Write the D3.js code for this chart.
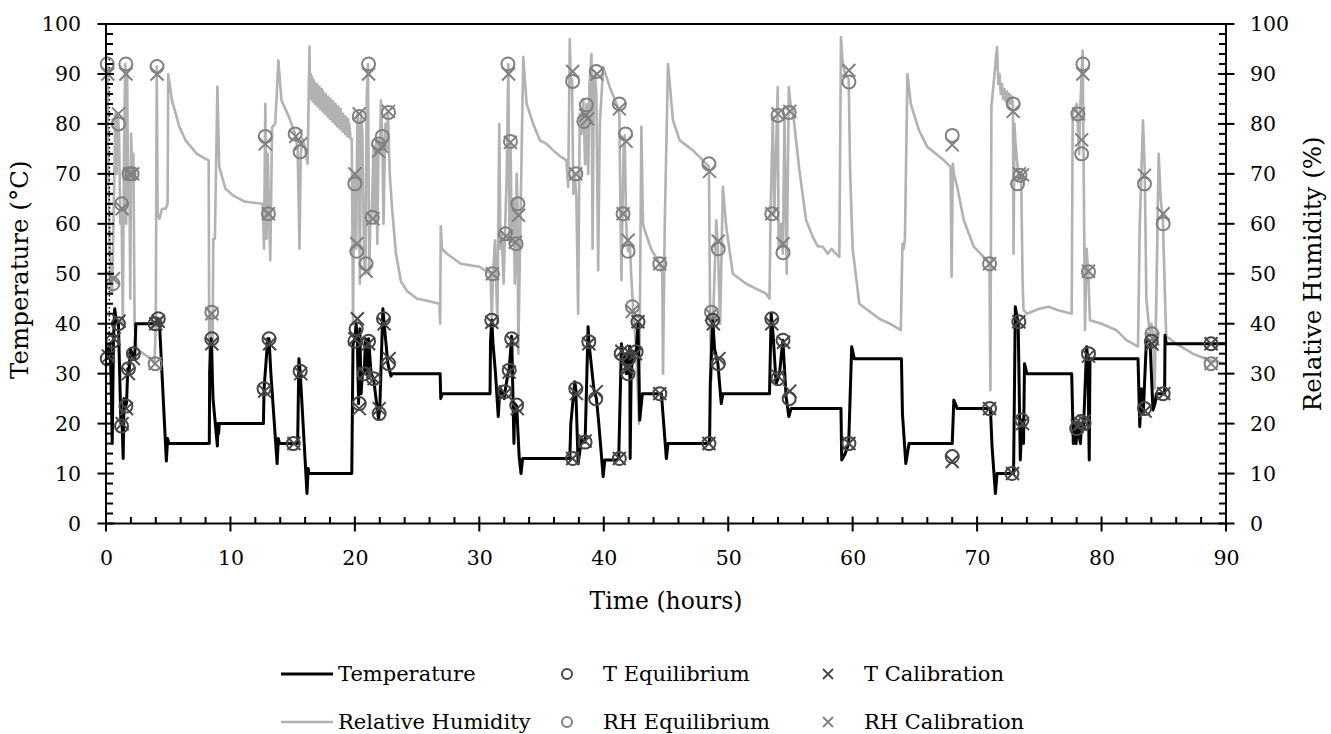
<!DOCTYPE html>
<html>
<head>
<meta charset="utf-8">
<title>Temperature and RH</title>
<style>
body { margin: 0; background: #fff; }
text { font-family: "DejaVu Serif", serif; fill: #000; }
.axis path, .axis line { display: none; }
</style>
</head>
<body>
<script src="https://cdn.jsdelivr.net/npm/d3@7/dist/d3.min.js"></script>
<script>

// axis ticks
var xTicks = [0, 10, 20, 30, 40, 50, 60, 70, 80, 90];
var yTicks = [0, 10, 20, 30, 40, 50, 60, 70, 80, 90, 100];

// temperature (°C), [hours, value]
var tempData = [
  [0, 33], [0.1, 33], [0.2, 35], [0.3, 36], [0.4, 30], [0.5, 16], [0.6, 36.5], [0.7, 43],
  [0.85, 40], [1.0, 40], [1.1, 30], [1.2, 20], [1.3, 19.5], [1.38, 13], [1.45, 25], [1.55, 23.5],
  [1.65, 24], [1.75, 31], [1.85, 30], [1.95, 35], [2.1, 34], [2.3, 33], [2.4, 40], [4.0, 40],
  [4.2, 41], [4.3, 40], [4.85, 12.5], [4.95, 17], [5.05, 16], [8.3, 16], [8.33, 30], [8.45, 37],
  [8.6, 25], [8.95, 15.5], [9.0, 20], [9.05, 18], [9.1, 20], [12.65, 20], [12.7, 27], [13.0, 37],
  [13.1, 37], [13.25, 30], [13.75, 12], [13.85, 17], [13.95, 16], [15.4, 16], [15.5, 33], [15.6, 30.5],
  [16.15, 6], [16.25, 11], [16.3, 10], [19.75, 10], [19.85, 36], [20.0, 37], [20.1, 40], [20.2, 36],
  [20.3, 24], [20.4, 39], [20.5, 26], [20.6, 30], [20.75, 30], [20.85, 37], [21.0, 30], [21.1, 37],
  [21.3, 30], [21.5, 29], [21.9, 21], [22.0, 23], [22.25, 43], [22.35, 40], [22.65, 32], [22.9, 29.5],
  [23.0, 30], [26.85, 30], [26.9, 25], [27.0, 26], [30.86, 26], [30.9, 36.7], [31.0, 40.7], [31.1, 36],
  [31.3, 30], [31.52, 21.4], [31.66, 27.4], [32.0, 25], [32.06, 26.4], [32.3, 30], [32.4, 31], [32.6, 37.5],
  [32.78, 16], [32.85, 24], [33.0, 23.5], [33.2, 13.4], [33.35, 10], [33.48, 13], [37.27, 13], [37.35, 20],
  [37.67, 28.4], [37.75, 27], [37.94, 12], [38.2, 16.7], [38.5, 16.3], [38.74, 39.4], [38.8, 36.4], [39.2, 27],
  [39.41, 25], [39.6, 20], [39.95, 9.4], [40.08, 12.7], [41.02, 12.7], [41.2, 13], [41.42, 36], [41.5, 34],
  [41.7, 33], [41.8, 30], [41.9, 34], [42.0, 30], [42.09, 35.5], [42.12, 13], [42.2, 30], [42.35, 34.5],
  [42.6, 34], [42.75, 40], [42.89, 20.7], [43.1, 26], [44.63, 26], [45.03, 13], [45.16, 16], [48.5, 16],
  [48.56, 28], [48.75, 41], [48.9, 35], [49.17, 32], [49.44, 24], [49.57, 26], [53.32, 26], [53.45, 42],
  [53.6, 38], [53.85, 28], [54.0, 29], [54.12, 30], [54.39, 36.7], [54.65, 25.4], [54.87, 21.4], [55.05, 23],
  [59.06, 23], [59.12, 12.7], [59.4, 14], [59.68, 16], [59.92, 35.4], [60.13, 33], [63.92, 33], [64.0, 22],
  [64.27, 12], [64.53, 16], [68.0, 16], [68.13, 24.7], [68.4, 23], [71.07, 23], [71.2, 15.4], [71.47, 6],
  [71.6, 10], [72.93, 10], [73.07, 43.4], [73.3, 40], [73.47, 12.7], [73.6, 20.7], [73.73, 16], [73.81, 32],
  [74.0, 30], [77.6, 30], [77.73, 16], [77.85, 20], [77.95, 16], [78.1, 20], [78.3, 16], [78.4, 20],
  [78.55, 19], [78.8, 35.4], [78.9, 33], [79.01, 12.7], [79.07, 33], [82.93, 33], [83.07, 19.4], [83.2, 27],
  [83.35, 22], [83.6, 36.4], [83.9, 36], [84.13, 22.7], [84.3, 24], [84.4, 26], [85.07, 26], [85.1, 37.7],
  [85.2, 36], [90, 36]
];

// relative humidity (%), [hours, value]
var rhData = [
  [0.0, 91], [0.1, 92], [0.2, 70], [0.35, 48], [0.5, 46], [0.6, 60], [0.75, 82], [0.85, 70],
  [0.95, 82], [1.05, 78], [1.15, 60], [1.25, 63], [1.35, 40], [1.45, 75], [1.55, 92], [1.62, 60],
  [1.7, 90], [1.78, 65], [1.88, 70], [1.95, 45], [2.02, 78], [2.1, 70], [2.2, 74], [2.3, 40],
  [2.45, 35], [3.0, 34], [3.6, 33], [3.9, 32], [4.0, 40], [4.08, 91.5], [4.15, 62], [4.3, 61],
  [4.5, 63], [4.8, 63], [4.95, 64], [5.0, 90], [5.3, 84.7], [5.9, 79.4], [6.4, 76.7], [7.3, 74],
  [8.0, 73], [8.25, 72.7], [8.3, 30], [8.45, 42], [8.55, 30], [8.62, 57], [8.75, 57], [8.95, 87.5],
  [9.1, 71.4], [9.6, 67], [10.2, 65.7], [11.2, 64.4], [12.6, 64], [12.7, 55], [12.8, 84], [12.9, 57],
  [13.0, 74], [13.1, 62], [13.2, 52.7], [13.35, 79.4], [13.6, 80], [13.85, 92.7], [14.1, 84.7], [14.7, 81.4],
  [15.2, 78], [15.4, 75], [15.55, 55], [15.65, 74], [15.8, 77], [16.0, 75], [16.2, 72],
  [16.35, 95.5], [16.4, 86], [16.45, 90], [16.5, 85], [16.55, 89.5], [16.6, 84.5], [16.65, 89], [16.7, 84.5],
  [16.75, 88.5], [16.8, 84], [16.85, 88], [16.9, 84], [16.95, 88], [17.0, 83.5], [17.05, 87.5], [17.1, 83.5],
  [17.15, 87.5], [17.2, 83], [17.25, 87], [17.3, 83], [17.35, 87], [17.4, 82.5], [17.45, 86.5], [17.5, 82.5],
  [17.55, 86], [17.6, 82], [17.65, 86], [17.7, 82], [17.75, 85.5], [17.8, 81.5], [17.85, 85.5], [17.9, 81.5],
  [17.95, 85], [18.0, 81], [18.05, 85], [18.1, 81], [18.15, 84.5], [18.2, 80.5], [18.25, 84.5], [18.3, 80.5],
  [18.35, 84], [18.4, 80], [18.45, 84], [18.5, 80], [18.55, 83.5], [18.6, 79.5], [18.65, 83.5], [18.7, 79.5],
  [18.75, 83], [18.8, 79], [18.85, 83], [18.9, 79], [18.95, 82], [19.0, 78.5], [19.05, 82], [19.1, 78.5],
  [19.15, 81.5], [19.2, 78], [19.25, 81.5], [19.3, 78], [19.35, 81], [19.4, 77.5], [19.45, 81], [19.5, 77.5],
  [19.55, 80], [19.65, 77], [19.75, 77], [19.85, 40], [19.95, 70], [20.0, 56], [20.05, 70], [20.1, 55],
  [20.2, 82], [20.3, 80], [20.4, 48], [20.5, 82], [20.6, 78], [20.75, 52], [20.85, 50], [20.95, 85],
  [21.05, 92], [21.15, 50], [21.25, 61], [21.35, 62], [21.5, 75], [21.6, 60], [21.7, 77], [21.8, 56],
  [21.9, 76], [22.0, 74], [22.1, 84.7], [22.2, 77], [22.3, 60], [22.45, 80], [22.55, 75], [22.65, 82.5],
  [22.8, 70], [23.0, 62.7], [23.3, 54], [23.7, 48.5], [24.2, 46.5], [25.0, 45], [26.0, 44.5], [26.8, 44],
  [26.85, 40], [26.9, 59.5], [27.0, 55], [27.4, 54], [28.5, 52], [30.0, 51.4], [30.9, 50], [31.0, 41],
  [31.1, 50], [31.26, 56.7], [31.45, 40], [31.6, 80], [31.7, 55], [31.8, 58], [31.95, 48], [32.06, 58],
  [32.2, 70], [32.33, 92], [32.42, 56], [32.51, 76.4], [32.6, 58], [32.75, 65], [32.85, 48], [32.94, 56],
  [33.0, 70], [33.07, 63.7], [33.13, 34], [33.3, 60], [33.53, 93.4], [33.8, 84], [34.33, 80], [34.87, 76.7],
  [35.4, 76], [35.94, 74.7], [36.5, 73.5], [37.0, 72.7], [37.14, 67.4], [37.27, 97], [37.35, 88], [37.45, 89],
  [37.55, 66], [37.67, 70], [37.8, 65], [37.94, 42], [38.07, 82], [38.2, 78], [38.35, 85], [38.5, 72],
  [38.61, 84], [38.75, 70], [38.85, 88], [39.01, 94], [39.1, 55], [39.2, 88], [39.28, 90], [39.4, 86],
  [39.55, 50.7], [39.68, 80], [39.95, 91.4], [40.48, 87.4], [41.02, 84], [41.25, 82], [41.35, 60.7], [41.42, 48.7],
  [41.5, 62], [41.6, 75], [41.68, 77.7], [41.8, 60], [41.9, 56], [41.95, 54.5], [42.09, 56], [42.2, 50],
  [42.35, 43.4], [42.6, 35], [42.83, 20], [43.02, 79.4], [43.15, 60], [43.29, 58.7], [43.8, 55], [44.49, 52],
  [44.7, 50], [44.76, 30], [44.9, 60], [45.16, 92], [45.56, 80.7], [46.1, 76.7], [47.17, 74.7], [48.24, 72],
  [48.45, 71.5], [48.55, 40], [48.64, 28.7], [48.8, 42], [49.04, 60.7], [49.17, 55.4], [49.35, 40], [49.57, 67.4],
  [49.84, 59.4], [50.37, 50], [51.44, 48], [53.05, 46], [53.32, 45], [53.4, 62], [53.58, 81.4], [53.7, 62],
  [53.98, 87.4], [54.05, 55], [54.12, 55.4], [54.25, 60], [54.39, 54], [54.52, 81.4], [54.7, 50], [54.87, 87.4],
  [55.0, 84], [55.19, 82.7], [55.72, 70.7], [56.26, 60.7], [56.79, 57.4], [57.2, 55.5], [57.59, 55.4], [58.0, 54],
  [58.3, 55], [58.66, 54], [58.93, 53.4], [59.06, 97.4], [59.2, 92], [59.4, 90], [59.68, 89], [59.8, 70],
  [60.0, 55], [60.53, 44], [61.6, 42], [62.14, 41], [63.0, 40], [63.87, 38.7], [64.0, 56], [64.1, 55],
  [64.2, 57], [64.4, 90], [64.67, 84], [65.33, 78.7], [66.0, 75.4], [67.33, 72.7], [67.87, 71.4], [67.95, 49.4],
  [68.05, 72], [68.13, 70], [68.4, 67.4], [68.93, 60.7], [69.73, 55.4], [70.8, 52.7], [70.99, 52], [71.07, 26.7],
  [71.15, 83.4], [71.6, 95.4], [71.7, 88], [71.8, 90], [71.9, 86], [72.0, 88], [72.1, 85], [72.2, 87],
  [72.3, 84.5], [72.4, 86.5], [72.5, 84], [72.6, 86], [72.7, 84], [72.8, 85.5], [72.88, 83.7], [72.93, 54],
  [73.0, 80], [73.07, 76.7], [73.3, 70], [73.55, 68], [73.65, 49], [73.73, 42.7], [74.0, 42], [75.0, 43],
  [75.73, 43.4], [76.5, 42.7], [77.6, 42], [77.68, 82], [78.0, 84], [78.2, 74], [78.3, 84], [78.48, 94.7],
  [78.6, 60], [78.67, 38.7], [78.8, 55], [78.93, 50], [79.07, 40.7], [80.0, 40], [81.2, 38.7], [82.0, 36.7],
  [82.93, 35.4], [83.07, 60], [83.33, 80.7], [83.47, 70.7], [83.6, 45], [83.87, 38], [84.0, 40], [84.13, 38],
  [84.27, 27], [84.4, 45], [84.59, 74], [84.75, 65], [84.93, 60.7], [85.1, 45], [85.2, 37.4], [85.47, 37],
  [86.0, 36], [87.33, 34], [88.67, 32.7], [90.0, 32]
];

// short dotted segment near t = 0
var gapData = [[0.27, 93], [0.27, 33]];

var tEqData = [
  [0.1, 33], [0.55, 36.5], [1.0, 40], [1.25, 19.5], [1.6, 23.5], [1.8, 31], [2.2, 34], [3.95, 40],
  [4.2, 41], [8.5, 37], [12.7, 27], [13.1, 37], [15.05, 16], [15.6, 30.5], [20.0, 36.5], [20.1, 39],
  [20.35, 24], [20.75, 30], [21.1, 36.5], [21.5, 29], [21.95, 22], [22.3, 41], [22.7, 32], [31.0, 40.7],
  [32.05, 26.4], [32.4, 30.7], [32.6, 37], [33.0, 23.7], [37.5, 13], [37.75, 27], [38.5, 16.3], [38.8, 36.4],
  [39.35, 25], [41.25, 13], [41.4, 34], [41.95, 30], [42.0, 33], [42.6, 34.4], [42.75, 40.4], [44.5, 26],
  [48.45, 16], [48.75, 40.7], [49.2, 32], [53.5, 41], [54.0, 29], [54.4, 36.7], [54.9, 25], [59.7, 16],
  [68.0, 13.4], [71.0, 23], [72.8, 10], [73.35, 40.4], [73.6, 20.7], [78.0, 19], [78.35, 20.4], [78.6, 20],
  [78.95, 34], [83.45, 23], [84.0, 36.5], [84.95, 26], [88.8, 36]
];
var tCalData = [
  [0.2, 33.5], [0.65, 37], [1.05, 40.5], [1.3, 20], [1.65, 23], [1.8, 30], [2.2, 33], [4.0, 40],
  [4.2, 40.5], [8.5, 36], [12.75, 26.5], [13.15, 36], [15.1, 16], [15.65, 30], [20.0, 37], [20.2, 41],
  [20.35, 23], [20.8, 30], [21.1, 36], [21.55, 29], [21.95, 23], [22.35, 40], [22.75, 33], [31.0, 40.3],
  [32.1, 26], [32.4, 30.3], [32.65, 36.5], [33.05, 23], [37.5, 13], [37.8, 26], [38.5, 16.5], [38.8, 36],
  [39.4, 26.4], [41.25, 13], [41.45, 34.5], [41.9, 31], [42.55, 34], [42.75, 40.4], [44.5, 26], [48.45, 16],
  [48.8, 40], [49.25, 33], [53.5, 40], [54.0, 29.5], [54.45, 36.3], [54.95, 26.5], [59.7, 16], [68.0, 12.4],
  [71.0, 23], [72.85, 10], [73.35, 40.4], [73.65, 20], [78.05, 19.5], [78.35, 20], [78.6, 20.5], [78.95, 33.5],
  [83.5, 22.5], [84.05, 36], [85.0, 26], [88.8, 36]
];
var rhEqData = [
  [0.1, 92], [0.55, 48], [1.0, 80], [1.25, 64], [1.6, 92], [1.85, 70], [2.1, 70], [3.95, 32],
  [4.1, 91.5], [8.5, 42.3], [12.8, 77.5], [13.05, 62], [15.2, 78], [15.6, 74.4], [20.0, 68], [20.15, 54.5],
  [20.35, 81.5], [20.9, 52], [21.1, 92], [21.4, 61.3], [21.9, 76], [22.2, 77.5], [22.7, 82.3], [31.05, 50],
  [32.1, 58], [32.3, 92], [32.5, 76.5], [32.95, 56], [33.1, 64], [37.5, 88.5], [37.75, 70], [38.4, 80.5],
  [38.6, 83.8], [39.4, 90.5], [41.25, 84], [41.55, 62], [41.75, 78], [41.95, 54.5], [42.3, 43.4], [44.5, 52],
  [48.45, 72], [48.65, 42.3], [49.2, 55], [53.5, 62], [54.0, 81.7], [54.4, 54.2], [54.9, 82.3], [59.7, 88.4],
  [68.0, 77.7], [71.0, 52], [72.9, 84], [73.25, 68], [73.45, 69.7], [78.1, 82], [78.4, 74], [78.5, 92],
  [78.95, 50.4], [83.45, 68], [84.05, 38], [84.95, 60], [88.8, 32]
];
var rhCalData = [
  [0.15, 90], [0.6, 49], [1.0, 82], [1.3, 63], [1.6, 90], [1.9, 70], [2.15, 70], [3.95, 32],
  [4.1, 90], [8.5, 42], [12.8, 76], [13.05, 62], [15.25, 77.5], [15.65, 76], [20.0, 70], [20.15, 56],
  [20.35, 82], [20.9, 50.5], [21.1, 90], [21.45, 61], [21.9, 74.5], [22.15, 75.5], [22.7, 82.5], [31.05, 50],
  [32.15, 57.5], [32.35, 90], [32.5, 76.3], [32.9, 56.3], [33.15, 61.7], [37.5, 90.5], [37.75, 70], [38.55, 81.7],
  [38.7, 81], [39.45, 90], [41.25, 83], [41.55, 62], [41.8, 76.5], [41.95, 56.7], [42.3, 42.5], [44.5, 52],
  [48.5, 70.5], [48.65, 41.8], [49.2, 56.5], [53.5, 62], [54.0, 82], [54.4, 56], [54.95, 82.5], [59.7, 90.7],
  [68.0, 75.8], [71.0, 52], [72.9, 82.5], [73.4, 70], [73.65, 69.8], [78.15, 82], [78.4, 76.8], [78.5, 90],
  [78.95, 50.5], [83.45, 69.7], [84.1, 37], [84.95, 62], [88.8, 32]
];

var width = 1331,
    height = 734;

var tColor = "#474747",
    rhColor = "#808080",
    rhLine = "#b3b1b1";

var svg = d3.select("body").append("svg")
    .attr("width", width)
    .attr("height", height);

var x = d3.scaleLinear().domain([0, 90]).range([106, 1226]);
var y = d3.scaleLinear().domain([0, 100]).range([523.5, 24]);
var y2 = d3.scaleLinear().domain([0, 100]).range([523.5, 24]);

var line = d3.line()
    .x(function(d) { return x(d[0]); })
    .y(function(d) { return y(d[1]); });
var line2 = d3.line()
    .x(function(d) { return x(d[0]); })
    .y(function(d) { return y2(d[1]); });

// the lines
svg.append("path")
    .datum(rhData)
    .attr("d", line2)
    .style("fill", "none")
    .style("stroke", rhLine)
    .style("stroke-width", 2.6)
    .style("stroke-linejoin", "round");

svg.append("path")
    .datum(gapData)
    .attr("d", line2)
    .style("fill", "none")
    .style("stroke", "#000")
    .style("stroke-width", 1.5)
    .style("stroke-dasharray", "1.5,2.5");

svg.append("path")
    .datum(tempData)
    .attr("d", line)
    .style("fill", "none")
    .style("stroke", "#000")
    .style("stroke-width", 3)
    .style("stroke-linejoin", "round");

// markers
function cross(r) {
  return "M" + (-r) + "," + (-r) + "L" + r + "," + r + "M" + r + "," + (-r) + "L" + (-r) + "," + r;
}

function addCircles(data, sc, color) {
  svg.append("g").selectAll("circle")
      .data(data)
      .enter().append("circle")
      .attr("cx", function(d) { return x(d[0]); })
      .attr("cy", function(d) { return sc(d[1]); })
      .attr("r", 6.5)
      .style("fill", "none")
      .style("stroke", color)
      .style("stroke-width", 2);
}

function addCrosses(data, sc, color) {
  svg.append("g").selectAll("path")
      .data(data)
      .enter().append("path")
      .attr("d", cross(6.5))
      .attr("transform", function(d) { return "translate(" + x(d[0]) + "," + sc(d[1]) + ")"; })
      .style("fill", "none")
      .style("stroke", color)
      .style("stroke-width", 2);
}

addCircles(rhEqData, y2, rhColor);
addCrosses(rhCalData, y2, rhColor);
addCircles(tEqData, y, tColor);
addCrosses(tCalData, y, tColor);

// axes: labels from d3, tick marks drawn by hand (major ones cross the axis)
var x0 = x.range()[0], x1 = x.range()[1], yb = y.range()[0], yt = y.range()[1];

svg.append("g")
    .attr("class", "axis")
    .attr("transform", "translate(0," + yb + ")")
    .call(d3.axisBottom(x).tickValues(xTicks).tickSize(0).tickPadding(27))
    .selectAll("text")
    .style("font-size", "20.5px")
    .style("font-family", "DejaVu Serif");

svg.append("g")
    .attr("class", "axis")
    .attr("transform", "translate(" + x0 + ",0)")
    .call(d3.axisLeft(y).tickValues(yTicks).tickSize(0).tickPadding(25))
    .selectAll("text")
    .style("font-size", "20.5px")
    .style("font-family", "DejaVu Serif");

svg.append("g")
    .attr("class", "axis")
    .attr("transform", "translate(" + x1 + ",0)")
    .call(d3.axisRight(y2).tickValues(yTicks).tickSize(0).tickPadding(24))
    .selectAll("text")
    .style("font-size", "20.5px")
    .style("font-family", "DejaVu Serif");

var frame = svg.append("g")
    .style("stroke", "#000")
    .style("stroke-width", 2);

// axis lines + top line
frame.append("line").attr("x1", x0).attr("x2", x1).attr("y1", yb).attr("y2", yb);
frame.append("line").attr("x1", x0).attr("x2", x1).attr("y1", yt).attr("y2", yt);
frame.append("line").attr("x1", x0).attr("x2", x0).attr("y1", yt).attr("y2", yb);
frame.append("line").attr("x1", x1).attr("x2", x1).attr("y1", yt).attr("y2", yb);

var xMinor = d3.range(0, 90.01, 2).filter(function(v) { return v % 10 != 0; });
var yMinor = d3.range(0, 100.01, 2).filter(function(v) { return v % 10 != 0; });

frame.selectAll(".xmaj").data(xTicks).enter().append("line")
    .attr("x1", function(d) { return x(d); }).attr("x2", function(d) { return x(d); })
    .attr("y1", yb - 7).attr("y2", yb + 8);
frame.selectAll(".xmin").data(xMinor).enter().append("line")
    .attr("x1", function(d) { return x(d); }).attr("x2", function(d) { return x(d); })
    .attr("y1", yb - 6.5).attr("y2", yb);

frame.selectAll(".ylmaj").data(yTicks).enter().append("line")
    .attr("x1", x0 - 8.5).attr("x2", x0 + 8)
    .attr("y1", function(d) { return y(d); }).attr("y2", function(d) { return y(d); });
frame.selectAll(".ylmin").data(yMinor).enter().append("line")
    .attr("x1", x0).attr("x2", x0 + 7)
    .attr("y1", function(d) { return y(d); }).attr("y2", function(d) { return y(d); });

frame.selectAll(".yrmaj").data(yTicks).enter().append("line")
    .attr("x1", x1 - 8).attr("x2", x1 + 8.5)
    .attr("y1", function(d) { return y2(d); }).attr("y2", function(d) { return y2(d); });
frame.selectAll(".yrmin").data(yMinor).enter().append("line")
    .attr("x1", x1 - 7).attr("x2", x1)
    .attr("y1", function(d) { return y2(d); }).attr("y2", function(d) { return y2(d); });

// axis titles
svg.append("text")
    .attr("x", (x0 + x1) / 2)
    .attr("y", 609)
    .attr("text-anchor", "middle")
    .style("font-size", "23.5px")
    .text("Time (hours)");

svg.append("text")
    .attr("transform", "translate(28," + ((yt + yb) / 2 - 4) + ") rotate(-90)")
    .attr("text-anchor", "middle")
    .style("font-size", "24.5px")
    .text("Temperature (°C)");

svg.append("text")
    .attr("transform", "translate(1321," + ((yt + yb) / 2) + ") rotate(-90)")
    .attr("text-anchor", "middle")
    .style("font-size", "24.5px")
    .text("Relative Humidity (%)");

// legend
var legendRows = [
  [{type: "line", color: "#000", w: 3, label: "Temperature"},
   {type: "circle", color: tColor, label: "T Equilibrium"},
   {type: "cross", color: tColor, label: "T Calibration"}],
  [{type: "line", color: rhLine, w: 2.6, label: "Relative Humidity"},
   {type: "circle", color: rhColor, label: "RH Equilibrium"},
   {type: "cross", color: rhColor, label: "RH Calibration"}]
];
var legendY = [674, 722];
var legendX = [307, 567, 828];

legendRows.forEach(function(row, i) {
  var ly = legendY[i];
  row.forEach(function(item, j) {
    var lx = legendX[j];
    if (item.type == "line") {
      svg.append("line")
          .attr("x1", lx - 26).attr("x2", lx + 26)
          .attr("y1", ly).attr("y2", ly)
          .style("stroke", item.color)
          .style("stroke-width", item.w);
    } else if (item.type == "circle") {
      svg.append("circle")
          .attr("cx", lx).attr("cy", ly).attr("r", 5)
          .style("fill", "none")
          .style("stroke", item.color)
          .style("stroke-width", 2);
    } else {
      svg.append("path")
          .attr("d", cross(5))
          .attr("transform", "translate(" + lx + "," + ly + ")")
          .style("fill", "none")
          .style("stroke", item.color)
          .style("stroke-width", 1.8);
    }
    svg.append("text")
        .attr("x", item.type == "line" ? lx + 31 : lx + 36)
        .attr("y", ly + 7)
        .style("font-size", "21px")
        .text(item.label);
  });
});

</script>
</body>
</html>
